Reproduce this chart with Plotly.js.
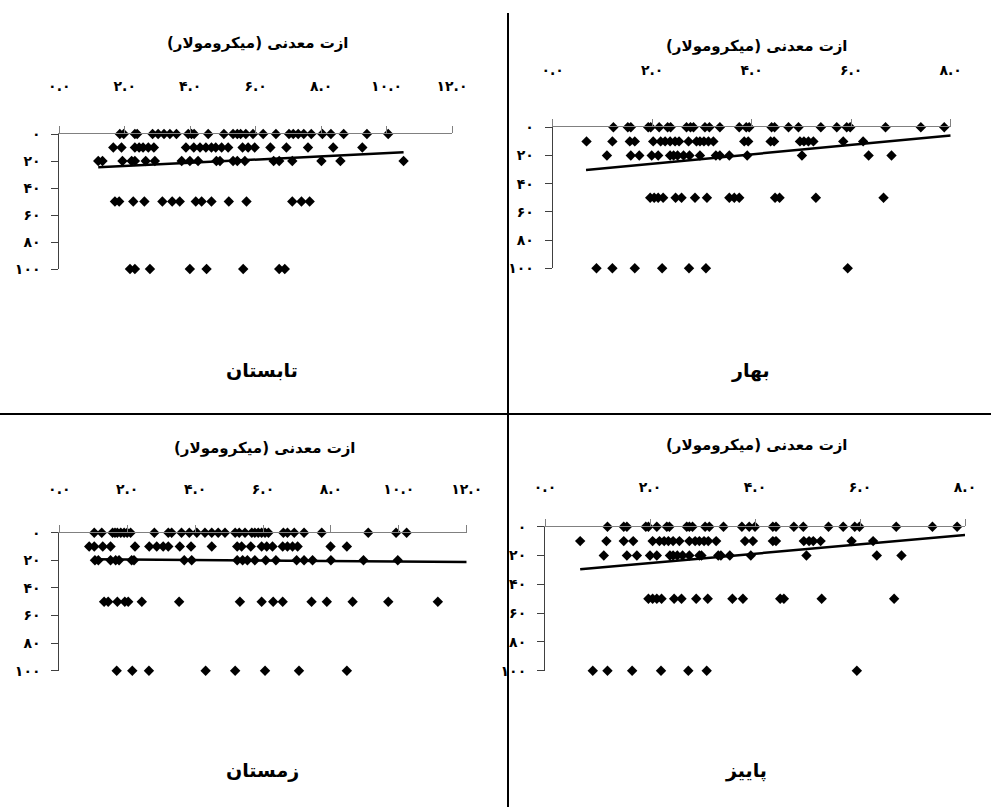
<!DOCTYPE html>
<html>
<head>
<meta charset="utf-8">
<script src="https://cdn.plot.ly/plotly-3.0.1.min.js"></script>
<style>html,body{margin:0;padding:0;background:#fff}#chart{width:991px;height:807px}</style>
</head>
<body>
<div id="chart"></div>
<script>
// ---------- DATA ----------
const depths = [0, 10, 20, 50, 100];
const seasonNames = ["تابستان", "بهار", "زمستان", "پاییز"];
const axisTitle = "ازت معدنی (میکرومولار)";
const yTickVals = [0, 20, 40, 60, 80, 100];
const yTickText = ["۰", "۲۰", "۴۰", "۶۰", "۸۰", "۱۰۰"];
const xTickVals12 = [0, 2, 4, 6, 8, 10, 12];
const xTickText12 = ["۰.۰", "۲.۰", "۴.۰", "۶.۰", "۸.۰", "۱۰.۰", "۱۲.۰"];
const xTickVals8 = [0, 2, 4, 6, 8];
const xTickText8 = ["۰.۰", "۲.۰", "۴.۰", "۶.۰", "۸.۰"];

// Summer (تابستان) – x values of nitrogen per depth row
const summer_d0 = [1.85,1.97,2.31,2.38,2.85,3.02,3.20,3.38,3.58,3.94,4.04,4.12,4.55,5.03,5.31,5.44,5.54,5.70,5.92,6.23,6.62,7.02,7.15,7.30,7.47,7.70,8.04,8.30,8.69,9.40,10.05];
const summer_d10 = [1.65,1.90,2.31,2.44,2.56,2.72,2.89,3.87,4.11,4.30,4.48,4.65,4.78,4.96,5.16,5.60,5.77,5.97,6.45,6.94,7.60,8.37,9.26];
const summer_d20 = [1.19,1.32,1.93,2.21,2.31,2.64,2.92,3.74,3.99,4.24,4.80,4.91,5.31,5.44,5.67,6.55,6.72,7.12,8.01,8.59,10.52];
const summer_d50 = [1.70,1.83,2.26,2.60,3.15,3.45,3.68,4.17,4.35,4.65,5.18,5.72,7.12,7.40,7.65];
const summer_d100 = [2.16,2.31,2.77,3.99,4.50,5.62,6.72,6.89];
const summer_trendX = [1.19, 10.52];
const summer_trendY = [24.7, 13.6];

// Spring (بهار)
const spring_d0 = [1.22,1.51,1.57,1.92,1.97,2.14,2.31,2.37,2.69,2.77,2.83,3.06,3.15,3.36,3.75,3.89,3.95,4.40,4.46,4.74,4.94,5.39,5.71,5.91,5.98,6.69,7.40,7.87];
const spring_d10 = [0.68,1.20,1.55,1.65,2.02,2.17,2.26,2.36,2.46,2.54,2.73,2.89,2.96,3.04,3.13,3.23,3.85,3.93,4.38,4.45,4.97,5.05,5.14,5.24,5.84,6.24];
const spring_d20 = [1.09,1.57,1.74,1.99,2.12,2.36,2.43,2.51,2.63,2.75,2.96,3.28,3.36,3.55,3.91,5.01,6.35,6.81];
const spring_d50 = [1.96,2.04,2.12,2.22,2.47,2.59,2.86,3.10,3.55,3.65,3.75,4.47,4.56,5.29,6.65];
const spring_d100 = [0.88,1.20,1.65,2.20,2.74,3.08,5.93];
const spring_trendX = [0.67, 8.0];
const spring_trendY = [30.3, 5.8];

// Winter (زمستان)
const winter_d0 = [1.03,1.25,1.57,1.64,1.71,1.81,1.91,2.00,2.10,2.80,3.21,3.31,3.60,3.83,4.05,4.29,4.49,4.68,4.88,5.18,5.30,5.47,5.67,5.76,5.86,5.96,6.06,6.16,6.60,6.72,6.92,7.21,7.73,9.10,9.92,10.23];
const winter_d10 = [0.88,1.03,1.28,1.51,2.23,2.65,2.87,3.06,3.21,3.55,3.88,4.49,5.24,5.37,5.64,5.96,6.11,6.28,6.58,6.72,6.87,7.02,7.99,8.47];
const winter_d20 = [1.05,1.15,1.51,1.66,1.76,2.13,2.20,3.68,3.90,5.24,5.40,5.54,5.76,6.08,6.38,6.99,7.21,7.46,8.00,8.96,9.97];
const winter_d50 = [1.32,1.44,1.71,1.93,2.03,2.43,3.53,5.32,5.96,6.30,6.58,7.43,7.88,8.64,9.69,11.15];
const winter_d100 = [1.69,2.15,2.64,4.31,5.18,6.06,7.06,8.47];
const winter_trendX = [1.05, 12.0];
const winter_trendY = [19.3, 21.2];

// Autumn (پاییز)
const autumn_d0 = [1.19,1.50,1.56,1.92,1.97,2.13,2.32,2.37,2.70,2.75,2.81,3.05,3.13,3.40,3.75,3.89,4.00,4.34,4.40,4.74,4.92,5.40,5.68,5.90,5.99,6.69,7.38,7.85];
const autumn_d10 = [0.67,1.17,1.50,1.68,2.05,2.18,2.27,2.35,2.44,2.56,2.75,2.86,2.94,3.03,3.11,3.26,3.81,3.96,4.34,4.40,4.93,5.03,5.11,5.25,5.84,6.25];
const autumn_d20 = [1.12,1.56,1.75,2.00,2.13,2.38,2.44,2.52,2.62,2.75,2.94,2.98,3.30,3.35,3.52,3.92,4.98,6.32,6.79];
const autumn_d50 = [1.97,2.05,2.13,2.22,2.46,2.60,2.88,3.10,3.57,3.77,4.48,4.55,5.27,6.65];
const autumn_d100 = [0.91,1.19,1.66,2.21,2.73,3.08,5.94];
const autumn_trendX = [0.67, 8.0];
const autumn_trendY = [29.6, 5.7];

// ---------- BUILD ----------
const W = 991, H = 807;
const FONT = "DejaVu Sans, Arial, sans-serif";
const px = x => x / W;
const py = y => 1 - y / H;

const panels = [
  {rows:[summer_d0,summer_d10,summer_d20,summer_d50,summer_d100], tx:summer_trendX, ty:summer_trendY, ax:"", max:12, tv:xTickVals12, tt:xTickText12,
   dom:[59.3,452,134,269], standoff:29, title:[258,43], label:[262,370]},
  {rows:[spring_d0,spring_d10,spring_d20,spring_d50,spring_d100], tx:spring_trendX, ty:spring_trendY, ax:"2", max:8, tv:xTickVals8, tt:xTickText8,
   dom:[552.7,950.7,127.3,268.3], standoff:39, title:[757,46], label:[750,370]},
  {rows:[winter_d0,winter_d10,winter_d20,winter_d50,winter_d100], tx:winter_trendX, ty:winter_trendY, ax:"3", max:12, tv:xTickVals12, tt:xTickText12,
   dom:[59.3,466.7,532.7,670.7], standoff:25, title:[265,448], label:[262,770]},
  {rows:[autumn_d0,autumn_d10,autumn_d20,autumn_d50,autumn_d100], tx:autumn_trendX, ty:autumn_trendY, ax:"4", max:8, tv:xTickVals8, tt:xTickText8,
   dom:[545,965,526.7,670.7], standoff:21, title:[757,445], label:[746,770]}
];

const traces = [];
const layout = {
  width: W, height: H,
  margin: {l:0, r:0, t:0, b:0},
  paper_bgcolor: "#fff", plot_bgcolor: "#fff",
  showlegend: false,
  font: {family: FONT, color: "#000"},
  annotations: [], shapes: []
};

panels.forEach((p, i) => {
  const xs = [], ys = [];
  p.rows.forEach((row, r) => row.forEach(v => { xs.push(v); ys.push(depths[r]); }));
  traces.push({
    type: "scatter", mode: "lines", x: p.tx, y: p.ty,
    xaxis: "x" + p.ax, yaxis: "y" + p.ax,
    line: {color: "#000", width: 2.5}, hoverinfo: "skip"
  });
  traces.push({
    type: "scatter", mode: "markers", x: xs, y: ys,
    xaxis: "x" + p.ax, yaxis: "y" + p.ax,
    marker: {symbol: "diamond", size: 8, color: "#000"},
    cliponaxis: false, hoverinfo: "skip"
  });
  layout["xaxis" + p.ax] = {
    domain: [px(p.dom[0]), px(p.dom[1])],
    anchor: "y" + p.ax, side: "top",
    range: [0, p.max], tickvals: p.tv, ticktext: p.tt,
    showgrid: false, zeroline: false,
    showline: true, linecolor: "#808080", linewidth: 1,
    ticks: "outside", ticklen: 7, tickcolor: "#808080", tickwidth: 1,
    ticklabelstandoff: p.standoff,
    tickfont: {family: FONT, size: 14, color: "#000", weight: "bold"}
  };
  layout["yaxis" + p.ax] = {
    domain: [py(p.dom[3]), py(p.dom[2])],
    anchor: "x" + p.ax,
    range: [100, 0], tickvals: yTickVals, ticktext: yTickText,
    showgrid: false, zeroline: false,
    showline: true, linecolor: "#404040", linewidth: 1,
    ticks: "outside", ticklen: 7, tickcolor: "#404040", tickwidth: 1,
    ticklabelstandoff: 8,
    tickfont: {family: FONT, size: 14, color: "#000", weight: "bold"}
  };
  layout.annotations.push({
    xref: "paper", yref: "paper", x: px(p.title[0]), y: py(p.title[1]),
    xanchor: "center", yanchor: "middle", showarrow: false,
    text: axisTitle, font: {family: FONT, size: 15, color: "#000", weight: "bold"}
  });
  layout.annotations.push({
    xref: "paper", yref: "paper", x: px(p.label[0]), y: py(p.label[1]),
    xanchor: "center", yanchor: "middle", showarrow: false,
    text: seasonNames[i], font: {family: FONT, size: 19, color: "#000", weight: "bold"}
  });
});

// panel separators
layout.shapes.push({type:"line", xref:"paper", yref:"paper", x0:px(508), x1:px(508), y0:py(13), y1:0, line:{color:"#000", width:2}});
layout.shapes.push({type:"line", xref:"paper", yref:"paper", x0:0, x1:1, y0:py(414), y1:py(414), line:{color:"#000", width:2}});

Plotly.newPlot("chart", traces, layout, {displayModeBar: false, staticPlot: true});
</script>
</body>
</html>
